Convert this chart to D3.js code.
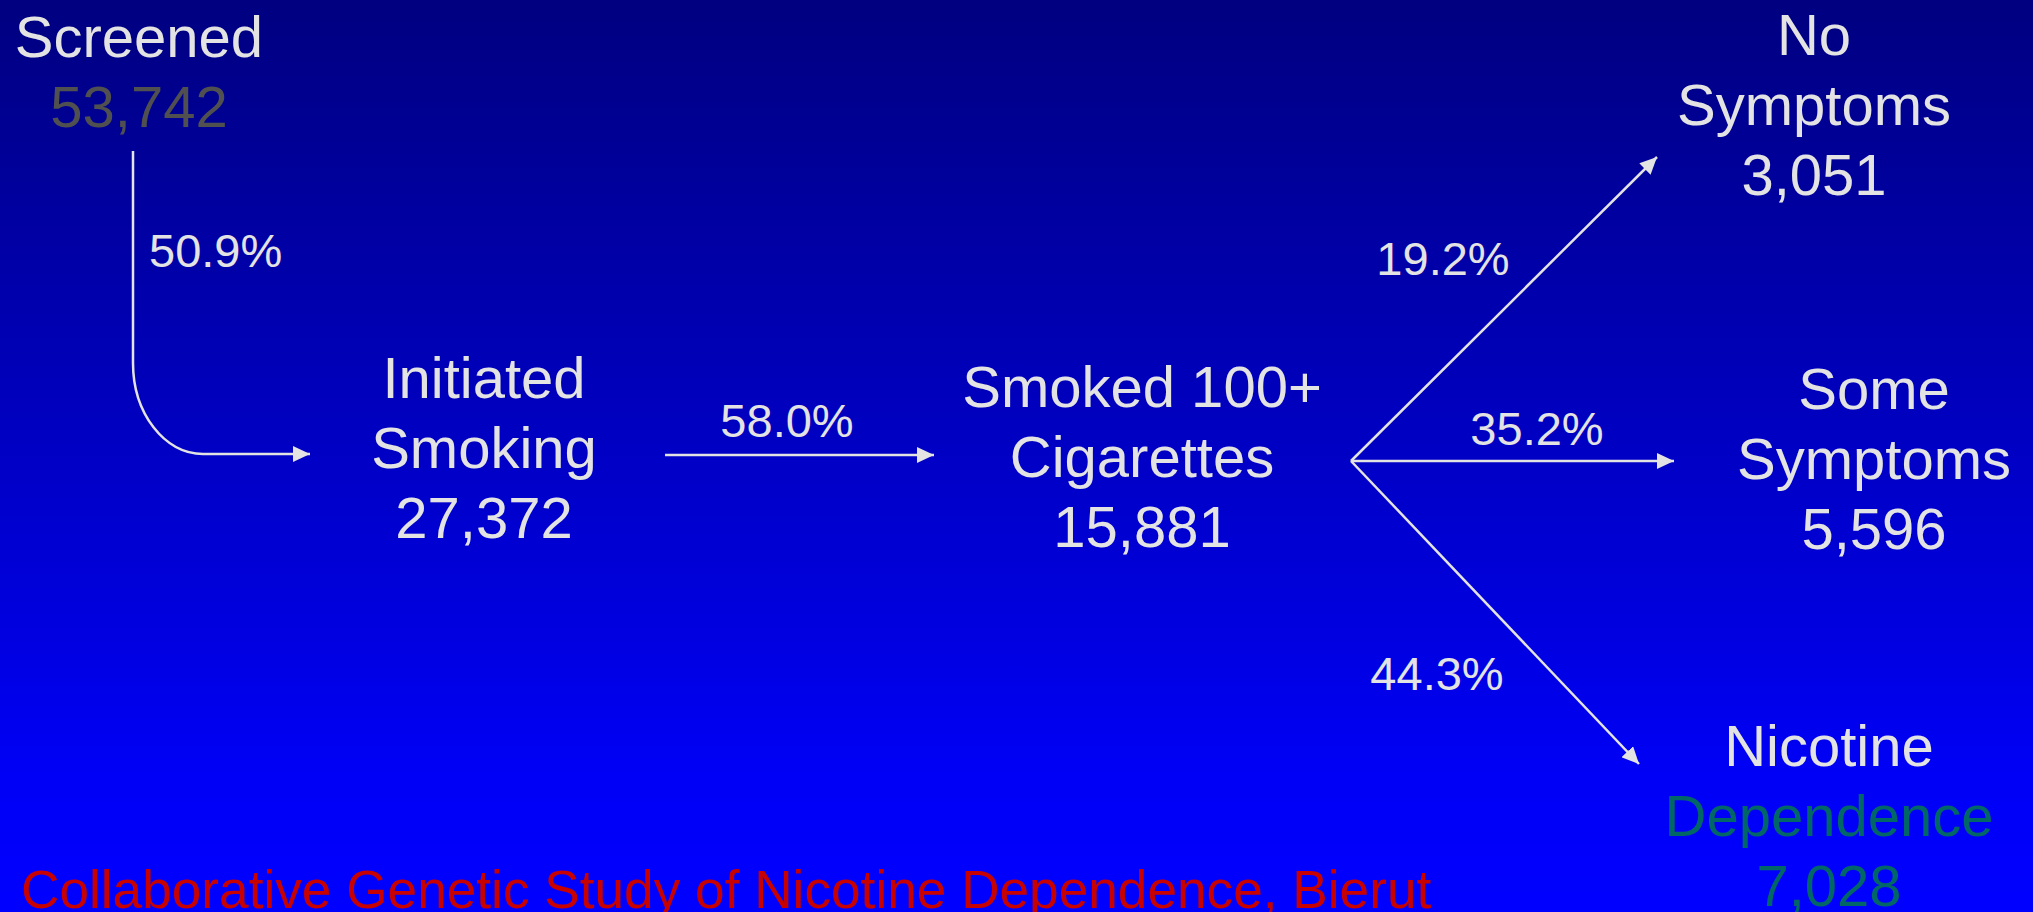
<!DOCTYPE html>
<html>
<head>
<meta charset="utf-8">
<script src="https://cdn.jsdelivr.net/npm/d3@7"></script>
<style>
  body { margin: 0; overflow: hidden; }
  svg { display: block; font-family: "Liberation Sans", Arial, sans-serif; }
</style>
</head>
<body>
<svg id="chart" width="2033" height="912"></svg>
<script>
// stages of the smoking cascade, each split into its printed lines
const stages = ["Screened", "Initiated Smoking", "Smoked 100+ Cigarettes", "No Symptoms", "Some Symptoms", "Nicotine Dependence"];
const stageLines = [["Screened"], ["Initiated", "Smoking"], ["Smoked 100+", "Cigarettes"], ["No", "Symptoms"], ["Some", "Symptoms"], ["Nicotine", "Dependence"]];
const counts = [53742, 27372, 15881, 3051, 5596, 7028];

// transitions between stages and their rates (%)
const links = [
  ["Screened", "Initiated Smoking"],
  ["Initiated Smoking", "Smoked 100+ Cigarettes"],
  ["Smoked 100+ Cigarettes", "No Symptoms"],
  ["Smoked 100+ Cigarettes", "Some Symptoms"],
  ["Smoked 100+ Cigarettes", "Nicotine Dependence"]
];
const rates = [50.9, 58.0, 19.2, 35.2, 44.3];

const source = "Collaborative Genetic Study of Nicotine Dependence, Bierut";

const W = 2033, H = 912;
const svg = d3.select("#chart");

// background
const defs = svg.append("defs");
const grad = defs.append("linearGradient")
  .attr("id", "bg").attr("x1", 0).attr("y1", 0).attr("x2", 0).attr("y2", 1);
grad.append("stop").attr("offset", "0%").attr("stop-color", "#000080");
grad.append("stop").attr("offset", "85%").attr("stop-color", "#0000f6");
grad.append("stop").attr("offset", "100%").attr("stop-color", "#0000ff");
svg.append("rect").attr("width", W).attr("height", H).attr("fill", "url(#bg)");

defs.append("marker")
  .attr("id", "head")
  .attr("markerUnits", "userSpaceOnUse")
  .attr("viewBox", "0 0 17 16")
  .attr("markerWidth", 17).attr("markerHeight", 16)
  .attr("refX", 17).attr("refY", 8)
  .attr("orient", "auto")
  .append("path").attr("d", "M0,0L17,8L0,16Z").attr("fill", "#e3e3e3");

// layout scales: node centres and first baselines
const nodeX = d3.scaleOrdinal().domain(stages).range([139, 484, 1142, 1814, 1874, 1829]);
const nodeY = d3.scaleOrdinal().domain(stages).range([57, 398, 407, 55, 409, 766]);
const lineH = 70;
const fmt = d3.format(",");

const white = "#e3e3e3", grey = "#505050", green = "#006666";
const lineColor = (stage, i) => {
  if (stage === "Screened" && i > 0) return grey;
  if (stage === "Nicotine Dependence" && i > 0) return green;
  return white;
};

const nodes = svg.append("g").selectAll("text")
  .data(stages)
  .join("text")
  .attr("text-anchor", "middle")
  .attr("font-size", 58);

nodes.selectAll("tspan")
  .data((s, k) => stageLines[k].concat(fmt(counts[k])).map((t, i) => ({ s, t, i })))
  .join("tspan")
  .attr("x", d => nodeX(d.s))
  .attr("y", d => nodeY(d.s) + d.i * lineH)
  .attr("fill", d => lineColor(d.s, d.i))
  .text(d => d.t);

// arrow geometry per link: start and tip points
const linkStart = d3.scaleOrdinal().domain(d3.range(links.length))
  .range([[133, 151], [665, 455], [1351, 461], [1351, 461], [1351, 461]]);
const linkEnd = d3.scaleOrdinal().domain(d3.range(links.length))
  .range([[310, 454], [934, 455], [1657, 157], [1674, 461], [1639, 764]]);

const arrowPath = (i) => {
  const [x0, y0] = linkStart(i), [x1, y1] = linkEnd(i);
  const p = d3.path();
  p.moveTo(x0, y0);
  if (i === 0) {
    // down, round the corner, then right
    const rx = 70, ry = 91, k = 0.552;
    p.lineTo(x0, y1 - ry);
    p.bezierCurveTo(x0, y1 - ry + ry * k, x0 + rx - rx * k, y1, x0 + rx, y1);
  }
  p.lineTo(x1, y1);
  return p.toString();
};

svg.append("g").selectAll("path")
  .data(links)
  .join("path")
  .attr("d", (d, i) => arrowPath(i))
  .attr("fill", "none")
  .attr("stroke", white)
  .attr("stroke-width", 2.5)
  .attr("marker-end", "url(#head)");

// rate labels
const rateX = [149, 787, 1443, 1537, 1437];
const rateY = [267, 437, 275, 445, 690];
svg.append("g").selectAll("text")
  .data(rates)
  .join("text")
  .attr("x", (d, i) => rateX[i])
  .attr("y", (d, i) => rateY[i])
  .attr("text-anchor", (d, i) => i === 0 ? "start" : "middle")
  .attr("font-size", 47)
  .attr("fill", white)
  .text(d => d.toFixed(1) + "%");

svg.append("text")
  .attr("x", 21)
  .attr("y", 908)
  .attr("font-size", 53.2)
  .attr("fill", "#c80000")
  .text(source);
</script>
</body>
</html>
